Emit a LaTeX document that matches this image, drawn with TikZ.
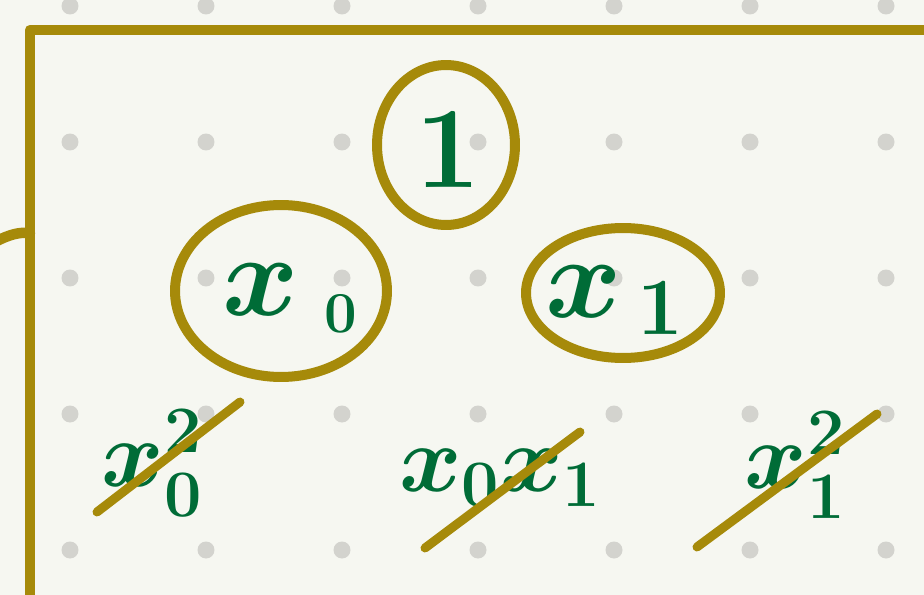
\documentclass[tikz,border=0pt]{standalone}
\usepackage{fix-cm}
\usepackage{amsmath}
\usepackage{tikz}
\usetikzlibrary{shapes.geometric, positioning, calc}
\definecolor{paper}{RGB}{246, 247, 241}
\definecolor{dotgray}{RGB}{211, 211, 206}
\definecolor{olive}{RGB}{166, 138, 10}
\definecolor{leaf}{RGB}{0, 108, 55}

\begin{document}
\begin{tikzpicture}[
    x=0.02cm, y=-0.02cm,
    ink/.style={line width=0.21cm, olive, line cap=round, line join=round},
    bubble/.style={ellipse, draw=olive, line width=0.2cm, inner sep=0pt},
    term/.style={text=leaf, font=\fontsize{66}{66}\selectfont\boldmath},
    sqterm/.style={text=leaf, font=\fontsize{54}{54}\selectfont\boldmath},
    strike/.style={line width=0.18cm, olive, line cap=round}
  ]
    \useasboundingbox (0,0) rectangle (924,595);
    \fill[paper] (0,0) rectangle (924,595);
    % dot grid
    \foreach \i in {0,...,6}
      \foreach \j in {0,...,4}
        \fill[dotgray] (70+136*\i, 6+136*\j) circle (0.17cm);
    % frame
    \draw[ink] (30,600) -- (30,30) -- (930,30);
    \draw[ink] (-5,242) .. controls (10,234) and (20,232) .. (30,233);
    % monomials of degree 0 and 1
    \node[bubble, minimum width=2.76cm, minimum height=3.2cm] (one) at (446,145) {};
    \node[term] (onelabel) at (448,150) {$1$};
    \node[bubble, minimum width=4.24cm, minimum height=3.44cm] (xzero) at (281,291) {};
    \node[term] (xzerolabel) at (290,298) {$x_{\;\scriptscriptstyle 0}$};
    \node[bubble, minimum width=3.88cm, minimum height=2.6cm] (xone) at (623,293) {};
    \node[term] (xonelabel) at (615,300) {$x_{\,1}$};
    % crossed-out monomials of degree 2
    \node[sqterm] (sqzero) at (152,463) {$x_0^2$};
    \node[sqterm] (mixed) at (500,478) {$x_0x_1$};
    \node[sqterm] (sqone) at (795,465) {$x_1^2$};
    \coordinate (sqzeroa) at (97,512);
    \coordinate (sqzerob) at (240,402);
    \coordinate (mixeda) at (425,548);
    \coordinate (mixedb) at (580,432);
    \coordinate (sqonea) at (697,547);
    \coordinate (sqoneb) at (877,414);
    \draw[strike] (sqzeroa) -- (sqzerob);
    \draw[strike] (mixeda) -- (mixedb);
    \draw[strike] (sqonea) -- (sqoneb);
  \end{tikzpicture}
\end{document}
